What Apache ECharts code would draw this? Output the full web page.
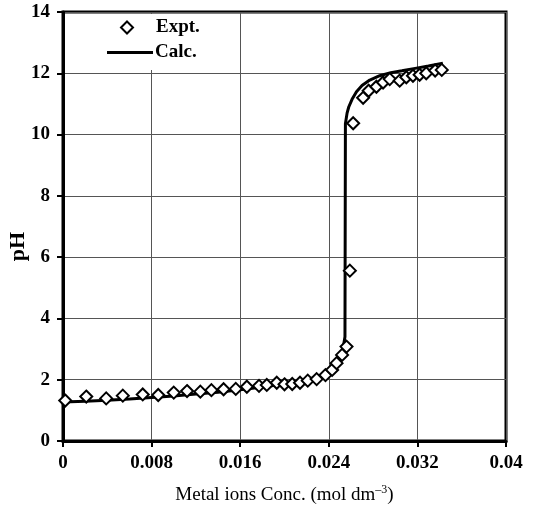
<!DOCTYPE html>
<html>
<head>
<meta charset="utf-8">
<script src="https://cdn.jsdelivr.net/npm/echarts@6/dist/echarts.min.js"></script>
<style>html,body{margin:0;padding:0;background:#fff}#c{width:533px;height:508px}</style>
</head>
<body>
<div id="c"></div>
<script>
// Experimental points
const exptX = [0.0002,0.0021,0.0039,0.0054,0.0072,0.0086,0.0100,0.0112,0.0124,0.0134,0.0145,0.0156,0.0166,0.0177,0.0184,0.0193,0.0200,0.0207,0.0214,0.0221,0.0229,0.0237,0.0243,0.0247,0.0252,0.0256,0.0259,0.0262,0.0271,0.0276,0.0283,0.0289,0.0295,0.0304,0.0310,0.0316,0.0322,0.0328,0.0336,0.0342];
const exptPH = [1.32,1.45,1.39,1.48,1.52,1.50,1.58,1.63,1.61,1.66,1.69,1.70,1.77,1.80,1.83,1.90,1.85,1.86,1.90,1.97,2.02,2.15,2.32,2.54,2.81,3.08,5.56,10.37,11.20,11.43,11.56,11.70,11.81,11.76,11.87,11.92,11.95,12.00,12.09,12.11];
// Calculated curve
const calcX = [0,0.002,0.004,0.006,0.008,0.010,0.012,0.014,0.016,0.018,0.020,0.021,0.022,0.023,0.0235,0.024,0.0245,0.0250,0.0253,0.02546,0.0255,0.02565,0.0258,0.0261,0.0265,0.0270,0.0277,0.0286,0.0296,0.0306,0.0318,0.0330,0.0343];
const calcPH = [1.27,1.30,1.33,1.37,1.42,1.47,1.53,1.59,1.67,1.76,1.86,1.92,2.00,2.10,2.17,2.27,2.42,2.70,3.05,3.40,10.35,10.70,10.90,11.15,11.40,11.60,11.78,11.92,12.02,12.08,12.16,12.24,12.33];
const xTicks = [0,0.008,0.016,0.024,0.032,0.04];
const yTicks = [0,2,4,6,8,10,12,14];

const F = 'Liberation Serif, Times New Roman, serif';
const chart = echarts.init(document.getElementById('c'));
chart.setOption({
  animation: false,
  backgroundColor: '#fff',
  grid: {left: 63, right: 27, top: 12, bottom: 67, containLabel: false, outerBoundsMode: 'none',
         show: true, borderColor: '#000', borderWidth: 3, backgroundColor: 'transparent'},
  legend: [
    {data: [{name: 'Expt.', icon: 'diamond'}], left: 112, top: 14, orient: 'vertical', itemWidth: 12, itemHeight: 12,
     padding: [4, 8, 6, 8], backgroundColor: '#fff',
     itemStyle: {color: '#fff', borderColor: '#000', borderWidth: 2},
     textStyle: {fontFamily: F, fontWeight: 'bold', fontSize: 19, color: '#000', padding: [0, 0, 0, 18]}},
    {data: [{name: 'Calc.', icon: 'rect'}], left: 99, top: 35, orient: 'vertical', itemWidth: 46, itemHeight: 3,
     padding: [8, 8, 8, 8], backgroundColor: '#fff',
     itemStyle: {color: '#000'},
     textStyle: {fontFamily: F, fontWeight: 'bold', fontSize: 19, color: '#000', padding: [0, 0, 0, -3]}}
  ],
  xAxis: {
    type: 'value', min: 0, max: 0.04, interval: 0.008,
    name: '{a|Metal ions Conc. (mol dm}{s|–3}{a|)}',
    nameLocation: 'middle', nameGap: 43, nameMoveOverlap: false,
    nameTextStyle: {rich: {a: {fontFamily: F, fontSize: 19, color: '#000', lineHeight: 22}, s: {fontFamily: F, fontSize: 12, color: '#000', verticalAlign: 'top', lineHeight: 22, padding: [0,0,10,0]}}},
    axisLine: {show: true, lineStyle: {color: '#000', width: 3}},
    axisTick: {show: true, length: 6, lineStyle: {color: '#000', width: 2}},
    axisLabel: {fontFamily: F, fontWeight: 'bold', fontSize: 19, color: '#000', margin: 13,
      formatter: v => { const t = xTicks.find(k => Math.abs(k - v) < 1e-9); return t === undefined ? '' : String(t); }},
    splitLine: {show: true, lineStyle: {color: '#555', width: 1}}
  },
  yAxis: {
    type: 'value', min: 0, max: 14, interval: 2,
    name: 'pH', nameLocation: 'middle', nameGap: 34, nameRotate: 90, nameMoveOverlap: false,
    nameTextStyle: {fontFamily: F, fontWeight: 'bold', fontSize: 22, color: '#000', padding: [0, 40, 0, 0]},
    axisLine: {show: true, lineStyle: {color: '#000', width: 3}},
    axisTick: {show: true, length: 6, lineStyle: {color: '#000', width: 2}},
    axisLabel: {fontFamily: F, fontWeight: 'bold', fontSize: 19, color: '#000', margin: 13,
      formatter: v => yTicks.includes(v) ? String(v) : ''},
    splitLine: {show: true, lineStyle: {color: '#555', width: 1}}
  },
  series: [
    {name: 'Calc.', type: 'line', data: calcX.map((x, i) => [x, calcPH[i]]), showSymbol: false, symbol: 'none',
     lineStyle: {color: '#000', width: 3}, itemStyle: {color: '#000'}, z: 2},
    {name: 'Expt.', type: 'scatter', data: exptX.map((x, i) => [x, exptPH[i]]), symbol: 'diamond', symbolSize: 12,
     itemStyle: {color: '#fff', borderColor: '#000', borderWidth: 2, opacity: 1}, z: 3}
  ]
});
</script>
</body>
</html>
